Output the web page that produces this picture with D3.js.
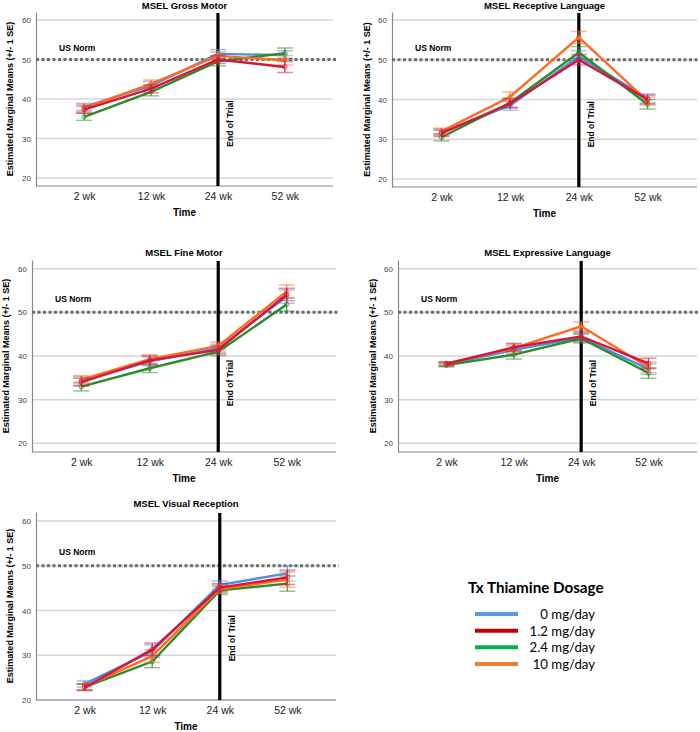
<!DOCTYPE html>
<html><head><meta charset="utf-8">
<script src="https://cdn.jsdelivr.net/npm/d3@7"></script>
<style>
body{margin:0;background:#fff;}
svg{display:block;font-family:"Liberation Sans",Arial,sans-serif;}
</style></head>
<body><svg id="c" width="700" height="732"></svg>
<script>
const times = ["2 wk","12 wk","24 wk","52 wk"];
const doses = ["0 mg/day","1.2 mg/day","2.4 mg/day","10 mg/day"];
const lineColors = ["#4a90e2","#d9143c","#2a8c2a","#ff6a1f"];
const legendColors = ["#5b9bd5","#c00000","#00b050","#ed7d31"];
const yTicks = [20,30,40,50,60];
const usNorm = 50;

// Means per dose (0, 1.2, 2.4, 10 mg/day) at 2, 12, 24, 52 wk
const grossMotor = [[38.0,43.4,51.4,51.1],[37.3,42.6,50.0,48.1],[35.5,41.8,49.5,51.6],[37.7,43.8,50.9,49.8]];
const grossMotorSE = [[0.9,1.0,1.1,1.1],[0.9,1.0,1.0,1.4],[0.9,1.0,1.1,1.3],[0.9,1.0,1.0,1.2]];
const receptive = [[31.8,38.5,50.8,40.3],[31.5,39.0,50.0,40.0],[30.5,39.2,51.8,38.8],[32.0,40.7,55.6,39.6]];
const receptiveSE = [[0.8,1.2,1.5,1.1],[0.8,1.1,1.3,1.1],[0.9,1.2,1.5,1.2],[0.8,1.2,1.5,1.0]];
const fineMotor = [[34.3,38.8,41.8,53.6],[34.0,39.0,41.4,54.1],[33.0,37.2,41.0,51.8],[34.6,39.3,42.3,54.8]];
const fineMotorSE = [[1.0,1.0,0.9,1.5],[0.9,1.0,0.9,1.4],[1.0,1.0,0.9,1.5],[0.9,1.0,0.9,1.5]];
const expressive = [[38.1,41.4,44.2,37.0],[38.2,42.0,44.5,38.3],[37.9,40.3,44.0,36.1],[38.3,41.8,46.8,37.4]];
const expressiveSE = [[0.4,0.9,1.0,1.2],[0.4,0.9,1.0,1.2],[0.4,1.0,1.0,1.2],[0.4,0.9,1.0,1.2]];
const visual = [[23.6,30.9,45.7,48.3],[22.8,31.3,45.1,47.4],[22.9,28.6,44.5,46.0],[23.0,29.8,44.8,46.9]];
const visualSE = [[0.7,1.4,0.9,1.7],[0.7,1.4,0.9,1.6],[0.7,1.4,0.9,1.7],[0.7,1.4,0.9,1.7]];

const panels = [
  {title:"MSEL Gross Motor", means:grossMotor, se:grossMotorSE, l:36, r:333, t:12, b:186, dom:[18,62], titleY:9, yLabX:10},
  {title:"MSEL Receptive Language", means:receptive, se:receptiveSE, l:392, r:697, t:12, b:187, dom:[18,62], titleY:9, yLabX:367},
  {title:"MSEL Fine Motor", means:fineMotor, se:fineMotorSE, l:32, r:336, t:260, b:452, dom:[18,62], titleY:256, yLabX:6},
  {title:"MSEL Expressive Language", means:expressive, se:expressiveSE, l:398, r:697, t:260, b:452, dom:[18,62], titleY:256, yLabX:373},
  {title:"MSEL Visual Reception", means:visual, se:visualSE, l:36, r:336, t:512, b:700, dom:[20,62], titleY:507, yLabX:10}
];

const svg = d3.select("#c");
const drawOrder = [0,2,3,1];

panels.forEach(p => {
  const g = svg.append("g");
  const x = d3.scalePoint().domain(times).range([p.l, p.r]).padding(0.72);
  const y = d3.scaleLinear().domain(p.dom).range([p.b, p.t]);

  g.append("g").selectAll("line").data(yTicks).join("line")
    .attr("x1", p.l).attr("x2", p.r).attr("y1", d=>y(d)).attr("y2", d=>y(d))
    .attr("stroke", "#d6d6d6").attr("stroke-width", 1.5);

  const ya = g.append("g").attr("transform", `translate(${p.l},0)`)
    .call(d3.axisLeft(y).tickValues(yTicks).tickSize(0).tickPadding(5));
  ya.select(".domain").attr("stroke", "#8a8a8a").attr("stroke-width", 1.2);
  ya.selectAll("text").attr("font-size", 8).attr("fill", "#444");

  const xa = g.append("g").attr("transform", `translate(0,${p.b})`)
    .call(d3.axisBottom(x).tickSize(0).tickPadding(7));
  xa.select(".domain").attr("d", `M${p.l},0H${p.r}`).attr("stroke", "#8a8a8a").attr("stroke-width", 1.2);
  xa.selectAll("text").attr("font-size", 10.5).attr("fill", "#222");

  g.append("text").attr("x", (p.l+p.r)/2).attr("y", p.titleY).attr("text-anchor","middle")
    .attr("font-size", 9.5).attr("font-weight","bold").text(p.title);
  g.append("text").attr("x", (p.l+p.r)/2).attr("y", p.b + 30).attr("text-anchor","middle")
    .attr("font-size", 10).attr("font-weight","bold").text("Time");
  g.append("text").attr("transform", `translate(${p.yLabX + 3},${(p.t+p.b)/2}) rotate(-90)`)
    .attr("text-anchor","middle").attr("font-size", 9).attr("font-weight","bold")
    .text("Estimated Marginal Means (+/- 1 SE)");

  g.append("line").attr("x1", p.l).attr("x2", p.r+3).attr("y1", y(usNorm)).attr("y2", y(usNorm))
    .attr("stroke", "#6e6e6e").attr("stroke-width", 3).attr("stroke-dasharray", "3,2.5");
  g.append("text").attr("x", p.l + 23).attr("y", y(53) + 3).attr("font-size", 8.5)
    .attr("font-weight","bold").text("US Norm");

  const xe = x("24 wk");
  g.append("line").attr("x1", xe).attr("x2", xe).attr("y1", p.t + 1).attr("y2", p.b)
    .attr("stroke", "#000").attr("stroke-width", 3.2);
  g.append("text").attr("transform", `translate(${xe + 15},${y(33.8)}) rotate(-90)`)
    .attr("text-anchor","middle").attr("font-size", 8.5).attr("font-weight","bold").text("End of Trial");

  const line = d3.line().x((d,i)=>x(times[i])).y(d=>y(d));
  drawOrder.forEach(k => {
    const vals = p.means[k], se = p.se[k], col = lineColors[k];
    const sg = g.append("g");
    vals.forEach((v,i) => {
      const cx = x(times[i]);
      sg.append("line").attr("x1", cx).attr("x2", cx).attr("y1", y(v - se[i])).attr("y2", y(v + se[i]))
        .attr("stroke", col).attr("stroke-width", 1.3).attr("opacity", 0.8);
      [v - se[i], v + se[i]].forEach(e => {
        sg.append("line").attr("x1", cx - 8).attr("x2", cx + 8).attr("y1", y(e)).attr("y2", y(e))
          .attr("stroke", col).attr("stroke-width", 1.5).attr("opacity", 0.5);
      });
    });
    sg.append("path").datum(vals).attr("d", line).attr("fill","none")
      .attr("stroke", col).attr("stroke-width", 2.4);
    sg.selectAll("circle").data(vals).join("circle")
      .attr("cx", (d,i)=>x(times[i])).attr("cy", d=>y(d)).attr("r", 2.3)
      .attr("fill","none").attr("stroke", col).attr("stroke-width", 1).attr("opacity", 0.7);
  });
});

const lg = svg.append("g");
lg.append("text").attr("x", 468).attr("y", 593).attr("font-size", 15.2).attr("font-weight","bold")
  .attr("font-family", "Lato,sans-serif").text("Tx Thiamine Dosage");
const legY = d3.scalePoint().domain(doses).range([614, 664]);
doses.forEach((d,i) => {
  lg.append("line").attr("x1", 475).attr("x2", 518).attr("y1", legY(d)).attr("y2", legY(d))
    .attr("stroke", legendColors[i]).attr("stroke-width", 4);
  lg.append("text").attr("x", 595).attr("y", legY(d) + 5).attr("text-anchor","end")
    .attr("font-size", 13.2).attr("font-family", "Lato,sans-serif").text(d);
});
</script></body></html>
